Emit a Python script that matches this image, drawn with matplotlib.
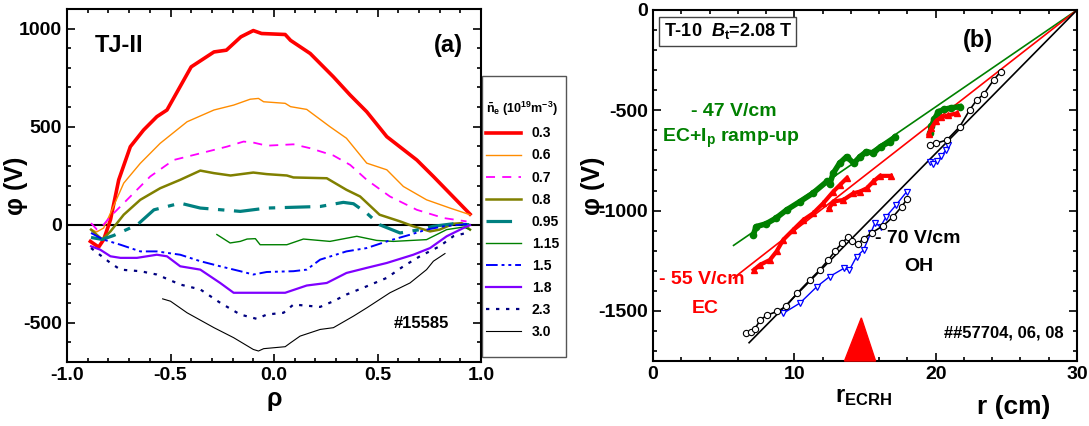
import numpy as np
import matplotlib
matplotlib.use("Agg")
import matplotlib.pyplot as plt
from matplotlib.patches import Rectangle

plt.rcParams['font.family'] = ['Liberation Sans', 'DejaVu Sans']
plt.rcParams['font.weight'] = 'bold'
plt.rcParams['axes.unicode_minus'] = False
plt.rcParams['mathtext.fontset'] = 'custom'
plt.rcParams['mathtext.rm'] = 'Liberation Sans:bold'
plt.rcParams['mathtext.bf'] = 'Liberation Sans:bold'
plt.rcParams['mathtext.it'] = 'Liberation Sans:italic:bold'
plt.rcParams['mathtext.default'] = 'bf'

# ---------------- panel (a): TJ-II profiles ----------------
dens_labels = ['0.3', '0.6', '0.7', '0.8', '0.95', '1.15', '1.5', '1.8', '2.3', '3.0']

rho_03 = [-0.887, -0.847, -0.823, -0.79, -0.75, -0.694, -0.63, -0.566, -0.517, -0.4, -0.29, -0.23, -0.16, -0.1, -0.06, 0.054, 0.08, 0.175, 0.287, 0.368, 0.448, 0.545, 0.69, 0.77, 0.947]
phi_03 = [-85, -114, -76, 25, 229, 398, 483, 551, 585, 805, 881, 890, 958, 990, 975, 970, 940, 873, 754, 661, 576, 449, 330, 246, 54]

rho_06 = [-0.88, -0.857, -0.823, -0.79, -0.726, -0.646, -0.55, -0.42, -0.29, -0.195, -0.115, -0.075, -0.05, 0.054, 0.08, 0.158, 0.27, 0.35, 0.448, 0.545, 0.625, 0.737, 0.85, 0.947]
phi_06 = [-25, -37, -17, 59, 212, 313, 415, 525, 585, 610, 640, 644, 627, 619, 602, 588, 500, 441, 314, 280, 195, 127, 85, 51]

rho_07 = [-0.884, -0.855, -0.83, -0.79, -0.71, -0.598, -0.485, -0.356, -0.228, -0.147, -0.1, -0.035, 0.094, 0.175, 0.287, 0.368, 0.448, 0.56, 0.69, 0.82, 0.93]
phi_07 = [8, -25, -8, 42, 127, 246, 330, 364, 398, 424, 419, 403, 410, 390, 353, 305, 229, 144, 76, 34, 17]

rho_08 = [-0.884, -0.83, -0.79, -0.726, -0.646, -0.55, -0.453, -0.356, -0.29, -0.21, -0.1, -0.035, 0.062, 0.094, 0.255, 0.35, 0.416, 0.51, 0.609, 0.673, 0.754, 0.8, 0.866, 0.907, 0.947]
phi_08 = [-25, -76, -34, 51, 127, 186, 229, 276, 263, 251, 266, 258, 251, 241, 237, 178, 144, 51, 17, -8, -34, -25, 5, 8, -25]

rho_095 = [-0.884, -0.83, -0.775, -0.66, -0.58, -0.453, -0.356, -0.163, -0.035, 0.126, 0.223, 0.335, 0.384, 0.448, 0.51, 0.609, 0.705, 0.77, 0.866, 0.947]
phi_095 = [-65, -75, -55, 0, 76, 110, 85, 68, 85, 90, 93, 114, 107, 59, 0, -42, -25, -8, 5, 0]

rho_115 = [-0.276, -0.212, -0.163, -0.13, -0.09, -0.067, 0.062, 0.142, 0.27, 0.4, 0.496, 0.577, 0.737, 0.834, 0.915, 0.947]
phi_115 = [-50, -93, -85, -73, -71, -102, -102, -73, -85, -59, -80, -85, -76, -25, -12, -25]

rho_15 = [-0.884, -0.823, -0.742, -0.646, -0.566, -0.453, -0.356, -0.26, -0.163, -0.1, -0.035, 0.094, 0.158, 0.223, 0.35, 0.448, 0.56, 0.657, 0.737, 0.82, 0.9, 0.947]
phi_15 = [-42, -76, -102, -136, -136, -153, -186, -212, -237, -254, -241, -237, -229, -178, -136, -119, -80, -51, -25, -8, 0, 5]

rho_18 = [-0.884, -0.84, -0.79, -0.742, -0.662, -0.566, -0.517, -0.453, -0.356, -0.26, -0.195, -0.1, 0.054, 0.158, 0.255, 0.35, 0.448, 0.545, 0.673, 0.754, 0.834, 0.915, 0.947]
phi_18 = [-110, -127, -161, -169, -169, -153, -161, -212, -229, -297, -347, -347, -347, -310, -297, -246, -220, -195, -153, -119, -59, -17, -2]

rho_23 = [-0.884, -0.79, -0.742, -0.646, -0.566, -0.453, -0.356, -0.26, -0.163, -0.083, -0.035, 0.046, 0.094, 0.223, 0.287, 0.35, 0.448, 0.545, 0.625, 0.705, 0.8, 0.866, 0.947]
phi_23 = [-119, -195, -229, -237, -254, -305, -330, -398, -458, -480, -458, -449, -407, -419, -390, -356, -314, -271, -212, -161, -110, -59, -37]

rho_30 = [-0.538, -0.5, -0.42, -0.29, -0.195, -0.1, -0.075, -0.05, 0.054, 0.08, 0.126, 0.223, 0.287, 0.384, 0.448, 0.56, 0.657, 0.737, 0.77, 0.826]
phi_30 = [-378, -390, -449, -525, -576, -636, -644, -632, -622, -602, -568, -534, -525, -466, -424, -347, -297, -229, -186, -147]

# ---------------- panel (b): T-10 profiles ----------------
r_green1 = [7.1, 7.3, 8.0, 8.7, 9.45, 10.4, 11.3, 12.3, 12.5, 12.75, 13.2, 13.7, 14.2, 14.65, 15.1, 15.6, 16.1, 16.8, 17.1]
p_green1 = [-1120, -1080, -1066, -1038, -997, -955, -914, -855, -870, -814, -764, -731, -764, -731, -706, -714, -681, -656, -635]
r_green2 = [19.6, 19.7, 19.9, 20.2, 20.6, 21.1, 21.7]
p_green2 = [-615, -580, -545, -507, -495, -488, -482]

r_red1 = [7.13, 7.56, 8.27, 8.74, 9.21, 9.92, 10.63, 11.34, 12.05, 12.76, 13.23, 13.7]
p_red1 = [-1296, -1271, -1246, -1204, -1146, -1096, -1047, -1013, -963, -905, -872, -839]
r_red2 = [12.47, 12.76, 13.47, 14.17, 14.65, 15.12, 15.59, 16.06, 16.82]
p_red2 = [-988, -955, -947, -914, -905, -889, -855, -827, -827]
r_red3 = [19.5, 19.7, 20.0, 20.4, 20.9, 21.5]
p_red3 = [-620, -590, -555, -535, -525, -515]

r_black1 = [6.6, 6.9, 7.2, 7.6, 8.1, 8.8, 9.4, 10.2, 11.1, 11.8, 12.4, 12.9, 13.4, 13.8, 14.1, 14.5, 14.9, 15.5, 16.3, 17.0, 17.6, 18.0]
p_black1 = [-1611, -1603, -1590, -1545, -1520, -1503, -1478, -1412, -1346, -1296, -1246, -1200, -1160, -1132, -1150, -1165, -1140, -1110, -1075, -1030, -980, -940]
r_black2 = [19.6, 20.0, 20.8, 21.7, 22.4, 22.9, 23.4, 24.1, 24.6]
p_black2 = [-675, -665, -648, -582, -499, -449, -420, -349, -307]

r_blue1 = [9.22, 10.4, 11.6, 12.5, 13.5, 13.9, 14.4, 14.9, 15.4, 15.7, 16.1, 16.5, 17.2, 17.95]
p_blue1 = [-1512, -1461, -1379, -1329, -1288, -1296, -1230, -1196, -1113, -1063, -1080, -1030, -972, -906]
r_blue2 = [19.6, 19.8, 20.1, 20.4, 20.7, 20.9]
p_blue2 = [-760, -770, -755, -730, -700, -672]

# linear fits, all through r = 30 cm, phi = 0
fit_r0 = [5.7, 5.7, 6.8]
fit_slope = [48.3, 55.0, 71.5]
fit_colors = ['#008000', '#ff0000', 'black']

ecrh_r = [13.55, 15.75, 14.74]
ecrh_phi = [-1750, -1750, -1535]

W, H = 1089, 426
fig = plt.figure(figsize=(W / 100, H / 100), dpi=100)

# legend box drawn separately (tall frame with extra space top and bottom)
leg_box = Rectangle((482 / W, 1 - 357 / H), 60 / W, 281 / H,
                    transform=fig.transFigure, fc='white', ec='#555555',
                    lw=1.0, zorder=-1)
fig.patches.append(leg_box)

# ----- panel (a)
ax = fig.add_axes([67 / W, 1 - 362 / H, 414 / W, 353 / H])
ax.axhline(0, color='black', lw=1.5, zorder=1)
styles = [
    (rho_03, phi_03, '#ff0000', 2.6, '-'),
    (rho_06, phi_06, '#ff8c00', 1.0, '-'),
    (rho_07, phi_07, '#ff00ff', 1.3, (0, (5, 4))),
    (rho_08, phi_08, '#808000', 1.8, '-'),
    (rho_095, phi_095, '#008080', 2.3, (0, (8, 3, 2, 3))),
    (rho_115, phi_115, '#008000', 1.0, '-'),
    (rho_15, phi_15, '#0000ff', 1.4, (0, (6, 2, 1.5, 2, 1.5, 2))),
    (rho_18, phi_18, '#8000ff', 1.6, '-'),
    (rho_23, phi_23, '#000080', 1.6, (0, (1.5, 3))),
    (rho_30, phi_30, 'black', 0.8, '-'),
]
for (x, y, c, lw, ls), lab in zip(styles, dens_labels):
    ax.plot(x, y, color=c, lw=lw, ls=ls, label=lab)
ax.set_xlim(-1, 1)
ax.set_ylim(-700, 1100)
ax.set_xticks([-1.0, -0.5, 0.0, 0.5, 1.0])
ax.set_xticklabels(['-1.0', '-0.5', '0.0', '0.5', '1.0'])
ax.set_xticks(np.arange(-1, 1.01, 0.1), minor=True)
ax.set_yticks([-500, 0, 500, 1000])
ax.set_yticks(np.arange(-700, 1101, 100), minor=True)
ax.set_ylabel('φ (V)', fontsize=18, fontweight='bold')
ax.yaxis.set_label_coords(-0.095, 0.5)
ax.set_xlabel('ρ', fontsize=18, fontweight='bold', labelpad=2)
ax.text(-0.865, 915, 'TJ-II', fontsize=17, fontweight='bold', va='center')
ax.text(0.84, 915, '(a)', fontsize=17, fontweight='bold', va='center', ha='center')
ax.text(0.71, -503, '#15585', fontsize=12, fontweight='bold', va='center', ha='center')

leg = ax.legend(loc='upper left', bbox_to_anchor=(482 / W, 1 - 96 / H),
                bbox_transform=fig.transFigure, borderaxespad=0, borderpad=0.3,
                title=r'$\bar{n}_e$ (10$^{19}$m$^{-3}$)', title_fontsize=9,
                prop={'size': 10, 'weight': 'bold'}, handlelength=2.5,
                labelspacing=0.58, frameon=False, alignment='left')

# ----- panel (b)
bx = fig.add_axes([653 / W, 1 - 361 / H, 424 / W, 351 / H])
for r0, s, c in zip(fit_r0, fit_slope, fit_colors):
    bx.plot([r0, 30], [-s * (30 - r0), 0], color=c, lw=1.2, zorder=2)

for r, p in [(r_green1, p_green1), (r_green2, p_green2)]:
    bx.plot(r, p, color='#008000', lw=4, marker='o', ms=4.5, mec='#008000', zorder=3)
for r, p in [(r_red1, p_red1), (r_red2, p_red2), (r_red3, p_red3)]:
    bx.plot(r, p, color='#ff0000', lw=3, marker='^', ms=5, mec='#ff0000', zorder=3)
for r, p in [(r_blue1, p_blue1), (r_blue2, p_blue2)]:
    bx.plot(r, p, color='#0000ff', lw=1.0, marker='v', ms=5, mfc='white', mec='#0000ff', mew=0.9, zorder=4)
for r, p in [(r_black1, p_black1), (r_black2, p_black2)]:
    bx.plot(r, p, color='black', lw=1.2, marker='o', ms=4.5, mfc='white', mec='black', mew=0.8, zorder=5)

bx.fill(ecrh_r, ecrh_phi, color='#ff0000', zorder=6, clip_on=False)

bx.set_xlim(0, 30)
bx.set_ylim(-1750, 0)
bx.set_xticks([0, 10, 20, 30])
bx.set_xticks(np.arange(0, 31, 2), minor=True)
bx.set_yticks([-1500, -1000, -500, 0])
bx.set_yticks(np.arange(-1700, 1, 100), minor=True)
bx.set_ylabel('φ (V)', fontsize=18, fontweight='bold')
bx.yaxis.set_label_coords(-0.113, 0.5)
bx.text(25.5, -1920, 'r (cm)', fontsize=19, fontweight='bold', ha='center', va='top', clip_on=False)
bx.text(14.9, -1870, r'r$_{\mathbf{ECRH}}$', fontsize=17, fontweight='bold', ha='center', va='top', clip_on=False)

bx.text(0.75, -105, r'T-10  $\mathit{B}_\mathbf{t}$=2.08 T', fontsize=13, fontweight='bold', va='center',
        bbox=dict(boxstyle='square,pad=0.25', fc='white', ec='#444444', lw=1))
bx.text(23.0, -150, '(b)', fontsize=17, fontweight='bold', ha='center', va='center')
bx.text(5.7, -507, '- 47 V/cm', fontsize=14, fontweight='bold', color='#008000', ha='center', va='center')
bx.text(5.5, -640, r'EC+I$_\mathbf{p}$ ramp-up', fontsize=14, fontweight='bold', color='#008000', ha='center', va='center')
bx.text(3.45, -1346, '- 55 V/cm', fontsize=14, fontweight='bold', color='#ff0000', ha='center', va='center')
bx.text(3.7, -1486, 'EC', fontsize=14, fontweight='bold', color='#ff0000', ha='center', va='center')
bx.text(18.75, -1137, '- 70 V/cm', fontsize=14, fontweight='bold', color='black', ha='center', va='center')
bx.text(18.8, -1280, 'OH', fontsize=14, fontweight='bold', color='black', ha='center', va='center')
bx.text(24.8, -1610, '##57704, 06, 08', fontsize=12, fontweight='bold', ha='center', va='center')

for a in (ax, bx):
    for sp in a.spines.values():
        sp.set_linewidth(1.5)
    a.tick_params(which='both', direction='in', top=True, right=True, labelsize=14, width=1.2)
    a.tick_params(which='major', length=6)
    a.tick_params(which='minor', length=3)
    for t in a.get_xticklabels() + a.get_yticklabels():
        t.set_fontweight('bold')

# widen the legend frame if its content is wider than the default box
fig.canvas.draw()
lb = leg.get_window_extent()
right_px = max(542, lb.x1 + 3)
leg_box.set_width((right_px - 482) / W)

fig.savefig('out.png', dpi=100)
